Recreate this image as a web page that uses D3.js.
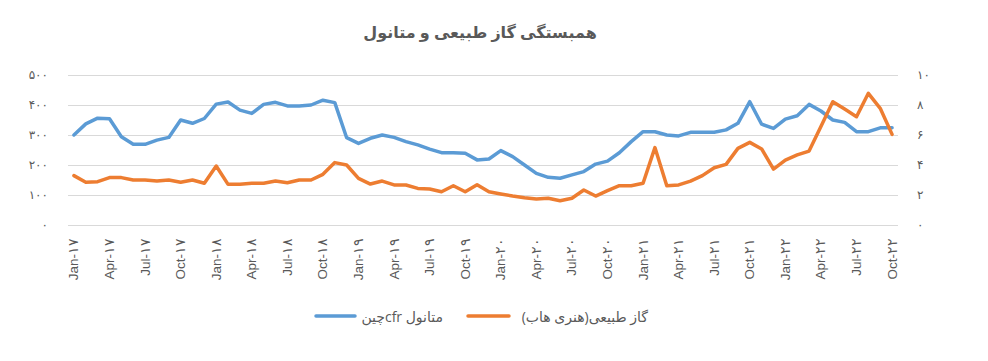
<!DOCTYPE html>
<html>
<head>
<meta charset="utf-8">
<script src="https://cdn.jsdelivr.net/npm/d3@7"></script>
<style>
  html, body { margin: 0; padding: 0; background: #fff; }
  svg { display: block; font-family: "Open Sans", "DejaVu Sans", sans-serif; }
</style>
</head>
<body>
<svg id="chart" width="988" height="361"></svg>
<script>
const monthNames = ["Jan","Feb","Mar","Apr","May","Jun","Jul","Aug","Sep","Oct","Nov","Dec"];
const yearLabels = ["۱۷","۱۸","۱۹","۲۰","۲۱","۲۲"];
const categories = [];
yearLabels.forEach(y => monthNames.forEach(m => categories.push(m + "-" + y)));
categories.length = 70; // Jan-17 .. Oct-22

const methanol = [
  300, 337, 356, 354, 294, 269, 269, 283, 292, 350, 339, 355,
  403, 410, 383, 372, 402, 409, 397, 397, 400, 416, 408, 291,
  272, 289, 300, 292, 278, 267, 253, 241, 241, 239, 217, 220,
  248, 228, 200, 172, 159, 156, 167, 178, 203, 213, 241, 278,
  311, 311, 300, 297, 309, 309, 309, 317, 339, 411, 336, 322,
  353, 364, 402, 380, 350, 342, 311, 311, 324, 324
];
const gas = [
  3.29, 2.85, 2.89, 3.16, 3.16, 3.0, 3.0, 2.93, 3.0, 2.85, 3.0, 2.78,
  3.93, 2.71, 2.71, 2.78, 2.78, 2.93, 2.82, 3.0, 3.0, 3.38, 4.16, 4.0,
  3.11, 2.73, 2.93, 2.67, 2.67, 2.44, 2.40, 2.22, 2.62, 2.22, 2.69, 2.22,
  2.07, 1.93, 1.82, 1.73, 1.78, 1.62, 1.78, 2.33, 1.93, 2.29, 2.62, 2.62,
  2.78, 5.16, 2.62, 2.67, 2.93, 3.29, 3.82, 4.04, 5.11, 5.51, 5.07, 3.73,
  4.33, 4.67, 4.93, 6.56, 8.22, 7.73, 7.22, 8.78, 7.78, 6.04
];
const leftTicks = [0, 100, 200, 300, 400, 500];
const leftTickLabels = ["۰", "۱۰۰", "۲۰۰", "۳۰۰", "۴۰۰", "۵۰۰"];
const rightTicks = [0, 2, 4, 6, 8, 10];
const rightTickLabels = ["۰", "۲", "۴", "۶", "۸", "۱۰"];
const xTickIdx = d3.range(0, 70, 3);
const titleText = "همبستگی گاز طبیعی و متانول";
const seriesNames = ["متانول cfrچین", "گاز طبیعی(هنری هاب)"];
const colors = ["#5B9BD5", "#ED7D31"];

const svg = d3.select("#chart");
const pL = 68, pR = 898, pT = 75, pB = 225;
const textColor = "#595959";

const x = d3.scaleBand().domain(d3.range(70)).range([pL, pR]);
const yL = d3.scaleLinear().domain([0, 500]).range([pB, pT]);
const yR = d3.scaleLinear().domain([0, 10]).range([pB, pT]);
const cx = i => x(i) + x.bandwidth() / 2;

// title
svg.append("text").attr("x", 480).attr("y", 38).attr("text-anchor", "middle")
  .attr("direction", "rtl")
  .attr("font-size", 16).attr("font-weight", "bold").attr("fill", textColor)
  .text(titleText);

// grid + left axis
const gLeft = svg.append("g").attr("transform", `translate(${pL},0)`)
  .call(d3.axisLeft(yL).tickValues(leftTicks).tickSize(-(pR - pL))
    .tickFormat((d, i) => leftTickLabels[i]));
gLeft.select(".domain").remove();
gLeft.selectAll(".tick line").attr("stroke", "#d9d9d9").attr("stroke-width", 1);
gLeft.selectAll(".tick text").attr("x", -20).attr("fill", textColor)
  .attr("font-size", 12).attr("font-family", "DejaVu Sans");

const gRight = svg.append("g").attr("transform", `translate(${pR},0)`)
  .call(d3.axisRight(yR).tickValues(rightTicks).tickSize(0)
    .tickFormat((d, i) => rightTickLabels[i]));
gRight.select(".domain").remove();
gRight.selectAll(".tick text").attr("x", 19).attr("fill", textColor)
  .attr("font-size", 12).attr("font-family", "DejaVu Sans");

// x axis
const gX = svg.append("g").attr("transform", `translate(0,${pB})`)
  .call(d3.axisBottom(x).tickValues(xTickIdx).tickSize(0)
    .tickFormat(i => categories[i]));
gX.select(".domain").remove();
gX.selectAll(".tick text")
  .attr("transform", "rotate(-90)")
  .attr("text-anchor", "end").attr("dominant-baseline", "central")
  .attr("x", -13).attr("y", 0).attr("dy", 0)
  .attr("fill", textColor).attr("font-size", 13.5);

// lines
const lineL = d3.line().x((d, i) => cx(i)).y(d => yL(d));
const lineR = d3.line().x((d, i) => cx(i)).y(d => yR(d));
svg.append("path").datum(methanol).attr("d", lineL)
  .attr("fill", "none").attr("stroke", colors[0]).attr("stroke-width", 3.5)
  .attr("stroke-linejoin", "round").attr("stroke-linecap", "round");
svg.append("path").datum(gas).attr("d", lineR)
  .attr("fill", "none").attr("stroke", colors[1]).attr("stroke-width", 3.5)
  .attr("stroke-linejoin", "round").attr("stroke-linecap", "round");

// legend
const legend = [
  { name: seriesNames[0], color: colors[0], x1: 316, x2: 355, tx: 443 },
  { name: seriesNames[1], color: colors[1], x1: 468, x2: 509, tx: 648 }
];
legend.forEach(l => {
  svg.append("line").attr("x1", l.x1).attr("x2", l.x2).attr("y1", 316).attr("y2", 316)
    .attr("stroke", l.color).attr("stroke-width", 3.5).attr("stroke-linecap", "round");
  svg.append("text").attr("x", l.tx).attr("y", 316).attr("dominant-baseline", "central")
    .attr("text-anchor", "start").attr("direction", "rtl")
    .attr("fill", textColor).attr("font-size", 14).text(l.name);
});
</script>
</body>
</html>
